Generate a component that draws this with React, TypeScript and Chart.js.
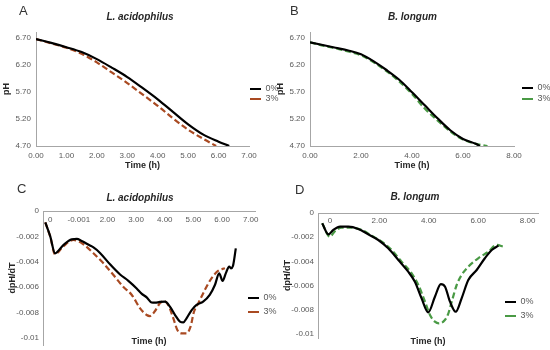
import React, { useEffect, useRef } from 'react';
import { Chart, registerables } from 'chart.js';

Chart.register(...registerables);

const FONT = "'Liberation Sans', Arial, Helvetica, sans-serif";
Chart.defaults.font.family = FONT;

// ---------- data ----------
const seriesLabels = ['0%', '3%'];
const panelTitles = ['L. acidophilus', 'B. longum', 'L. acidophilus', 'B. longum'];
const panelLetters = ['A', 'B', 'C', 'D'];

// Panel A: pH vs time, L. acidophilus
const timeA0 = [0, 0.5, 1, 1.5, 2, 2.5, 3, 3.5, 4, 4.5, 5, 5.5, 6, 6.35];
const phA0 = [6.67, 6.6, 6.52, 6.43, 6.3, 6.14, 5.97, 5.77, 5.56, 5.33, 5.1, 4.91, 4.78, 4.7];
const timeA3 = [0, 0.5, 1, 1.5, 2, 2.5, 3, 3.5, 4, 4.5, 5, 5.5, 5.92];
const phA3 = [6.67, 6.59, 6.51, 6.4, 6.24, 6.05, 5.86, 5.65, 5.44, 5.21, 5.0, 4.83, 4.7];

// Panel B: pH vs time, B. longum
const timeB0 = [0, 0.5, 1, 1.5, 2, 2.5, 3, 3.5, 4, 4.5, 5, 5.5, 6, 6.5, 6.66];
const phB0 = [6.61, 6.56, 6.51, 6.46, 6.39, 6.26, 6.1, 5.92, 5.69, 5.45, 5.21, 4.99, 4.83, 4.74, 4.7];
const timeB3 = [0, 0.5, 1, 1.5, 2, 2.5, 3, 3.5, 4, 4.5, 5, 5.5, 6, 6.5, 6.96];
const phB3 = [6.61, 6.55, 6.5, 6.44, 6.37, 6.24, 6.08, 5.89, 5.66, 5.39, 5.17, 4.97, 4.82, 4.74, 4.7];

// Panel C: dpH/dT, L. acidophilus
const timeC0 = [-0.17, 0, 0.17, 0.46, 0.75, 0.93, 1.1, 1.39, 1.5, 1.74, 2.09, 2.44, 2.73, 3.02, 3.19, 3.37, 3.54, 3.66, 3.83, 4.01, 4.18, 4.36, 4.53, 4.65, 4.76, 4.94, 5.11, 5.34, 5.57, 5.75, 5.9, 6.02, 6.13, 6.25, 6.31, 6.38, 6.48];
const dC0 = [-0.0009, -0.00197, -0.00333, -0.00268, -0.00223, -0.0022, -0.00236, -0.00272, -0.00285, -0.0033, -0.0042, -0.005, -0.0055, -0.0061, -0.0065, -0.0068, -0.0072, -0.00722, -0.00716, -0.00714, -0.00753, -0.00819, -0.00871, -0.00877, -0.00845, -0.0078, -0.0074, -0.00714, -0.00661, -0.00583, -0.00491, -0.00551, -0.00491, -0.00438, -0.00451, -0.00433, -0.00294];
const timeC3 = [-0.17, 0, 0.17, 0.45, 0.81, 1.16, 1.51, 1.86, 2.21, 2.55, 2.85, 3.14, 3.37, 3.48, 3.66, 3.83, 3.97, 4.12, 4.3, 4.44, 4.59, 4.76, 4.9, 5.02, 5.17, 5.4, 5.63, 5.87, 6.1];
const dC3 = [-0.0009, -0.002, -0.0034, -0.0028, -0.00228, -0.00262, -0.00333, -0.00412, -0.00504, -0.00596, -0.00661, -0.00766, -0.00819, -0.00827, -0.00787, -0.00727, -0.00709, -0.0074, -0.00845, -0.00937, -0.00963, -0.00963, -0.00911, -0.00793, -0.00727, -0.00622, -0.0053, -0.0047, -0.00451];

// Panel D: dpH/dT, B. longum
const timeD0 = [-0.31, -0.06, 0.14, 0.41, 0.75, 1.15, 1.55, 1.96, 2.36, 2.77, 3.17, 3.44, 3.71, 3.98, 4.25, 4.49, 4.66, 4.86, 5.09, 5.33, 5.6, 5.94, 6.27, 6.55, 6.82];
const dD0 = [-0.00085, -0.00176, -0.0014, -0.00113, -0.00113, -0.00132, -0.00176, -0.00223, -0.00292, -0.00388, -0.00485, -0.00568, -0.00705, -0.00821, -0.00692, -0.00587, -0.00609, -0.00733, -0.00816, -0.00705, -0.00554, -0.00471, -0.00374, -0.00306, -0.0027];
const timeD3 = [-0.31, 0.0, 0.21, 0.48, 0.88, 1.29, 1.69, 2.1, 2.5, 2.9, 3.31, 3.58, 3.85, 4.05, 4.25, 4.41, 4.59, 4.77, 4.93, 5.13, 5.33, 5.6, 6.0, 6.41, 6.75, 7.02];
const dD3 = [-0.00085, -0.00196, -0.00149, -0.00121, -0.00121, -0.0014, -0.00188, -0.00237, -0.00306, -0.00402, -0.00499, -0.00595, -0.00733, -0.00843, -0.00898, -0.00912, -0.00898, -0.00843, -0.00733, -0.00595, -0.00512, -0.00444, -0.00374, -0.0032, -0.00264, -0.00278];

// tick values / labels
const yTicksPH = [4.7, 5.2, 5.7, 6.2, 6.7];
const xTicksA = [0, 1, 2, 3, 4, 5, 6, 7];
const xTicksB = [0, 2, 4, 6, 8];
const yTicksD = [0, -0.002, -0.004, -0.006, -0.008, -0.01];
const xTicksC = [0, 1, 2, 3, 4, 5, 6, 7];
const xTickLabelsC = ['0', '-0.001', '2.00', '3.00', '4.00', '5.00', '6.00', '7.00'];
const xTicksD = [0, 2, 4, 6, 8];
const xTickLabelsD = ['0', '2.00', '4.00', '6.00', '8.00'];

// ---------- styles ----------
const BLACK = '#000000';
const RED = '#a94a22';
const GREEN = '#4a9a45';
const TICK_COLOR = '#595959';
const TITLE_COLOR = '#262626';
const AXIS_COLOR = '#a6a6a6';

const noGrid = { display: false, drawTicks: false };
const axisBorder = { display: true, color: AXIS_COLOR, width: 1 };
const setTicks = (vals: number[]) => (sc: any) => {
  sc.ticks = vals.map((v) => ({ value: v }));
};
const tickOpts = (padding: number, callback: any) => ({
  font: { size: 8 },
  color: TICK_COLOR,
  padding,
  autoSkip: false,
  maxRotation: 0,
  callback,
});
const axisTitle = (text: string, padding: any) => ({
  display: true,
  text,
  color: TITLE_COLOR,
  font: { size: 9, weight: 'bold' },
  padding,
});
const fmt2 = (v: any) => Number(v).toFixed(2);
const fmtD = (v: any) => (Number(v) === 0 ? '0' : String(parseFloat(Number(v).toFixed(3))));

// places the legend at a fixed spot and centres the title on the whole canvas
const placeBoxes = {
  id: 'placeBoxes',
  afterLayout(chart: any, _args: any, opts: any) {
    const tb = chart.titleBlock;
    if (tb) {
      tb.left = 0;
      tb.right = chart.width;
      tb.width = chart.width;
    }
    const lg = chart.legend;
    if (!lg || !opts || opts.x == null) return;
    const w = lg.width;
    lg.left = opts.x;
    lg.right = opts.x + w;
    lg.top = opts.y;
    lg.bottom = opts.y + 200;
  },
};

type Series = { t: number[]; v: number[]; color: string; dash: boolean };
type Spec = {
  left: number;
  top: number;
  width: number;
  height: number;
  title: string;
  titlePad: { top: number; bottom: number };
  padRight: number;
  legend: { x: number; y: number; pad: number };
  series: Series[];
  scales: any;
};

const specs: Spec[] = [
  {
    left: -5, top: 0, width: 290, height: 175,
    title: panelTitles[0], titlePad: { top: 11, bottom: 9 }, padRight: 36,
    legend: { x: 254, y: 83.5, pad: 1 },
    series: [
      { t: timeA0, v: phA0, color: BLACK, dash: false },
      { t: timeA3, v: phA3, color: RED, dash: true },
    ],
    scales: {
      x: {
        type: 'linear', min: 0, max: 7, grid: noGrid, border: axisBorder,
        afterBuildTicks: setTicks(xTicksA),
        ticks: tickOpts(5, fmt2),
        title: axisTitle('Time (h)', { top: 0, bottom: 4 }),
        afterFit: (sc: any) => { sc.height = 29; },
      },
      y: {
        type: 'linear', min: 4.7, max: 6.8, grid: noGrid, border: axisBorder,
        afterBuildTicks: setTicks(yTicksPH),
        ticks: tickOpts(5, fmt2),
        title: axisTitle('pH', { top: 6, bottom: 0 }),
        afterFit: (sc: any) => { sc.width = 41; },
      },
    },
  },
  {
    left: 275, top: 0, width: 275, height: 175,
    title: panelTitles[1], titlePad: { top: 11, bottom: 9 }, padRight: 36,
    legend: { x: 245, y: 81.5, pad: 2 },
    series: [
      { t: timeB0, v: phB0, color: BLACK, dash: false },
      { t: timeB3, v: phB3, color: GREEN, dash: true },
    ],
    scales: {
      x: {
        type: 'linear', min: 0, max: 8, grid: noGrid, border: axisBorder,
        afterBuildTicks: setTicks(xTicksB),
        ticks: tickOpts(5, fmt2),
        title: axisTitle('Time (h)', { top: 0, bottom: 4 }),
        afterFit: (sc: any) => { sc.height = 29; },
      },
      y: {
        type: 'linear', min: 4.7, max: 6.8, grid: noGrid, border: axisBorder,
        afterBuildTicks: setTicks(yTicksPH),
        ticks: tickOpts(5, fmt2),
        title: axisTitle('pH', { top: 0, bottom: 0 }),
        afterFit: (sc: any) => { sc.width = 35; },
      },
    },
  },
  {
    left: -5, top: 175, width: 290, height: 179,
    title: panelTitles[2], titlePad: { top: 17, bottom: 7 }, padRight: 30,
    legend: { x: 248, y: 113.5, pad: 5 },
    series: [
      { t: timeC0, v: dC0, color: BLACK, dash: false },
      { t: timeC3, v: dC3, color: RED, dash: true },
    ],
    scales: {
      x: {
        type: 'linear', position: { y: 0 }, min: -0.25, max: 7.15, grid: noGrid, border: axisBorder,
        afterBuildTicks: setTicks(xTicksC),
        ticks: tickOpts(4, (_v: any, i: number) => xTickLabelsC[i]),
      },
      x2: {
        type: 'linear', axis: 'x', position: 'bottom', grid: noGrid, border: { display: false },
        ticks: { display: false },
        title: axisTitle('Time (h)', { top: 0, bottom: 7 }),
        afterFit: (sc: any) => { sc.height = 9; },
      },
      y: {
        type: 'linear', min: -0.01055, max: 0, grid: noGrid, border: axisBorder,
        afterBuildTicks: setTicks(yTicksD),
        ticks: tickOpts(4, fmtD),
        title: axisTitle('dpH/dT', { top: 12, bottom: 0 }),
        afterFit: (sc: any) => { sc.width = 48; },
      },
    },
  },
  {
    left: 280, top: 175, width: 270, height: 175,
    title: panelTitles[3], titlePad: { top: 16, bottom: 10 }, padRight: 12,
    legend: { x: 220, y: 117.5, pad: 5 },
    series: [
      { t: timeD0, v: dD0, color: BLACK, dash: false },
      { t: timeD3, v: dD3, color: GREEN, dash: true },
    ],
    scales: {
      x: {
        type: 'linear', position: { y: 0 }, min: -0.48, max: 8.42, grid: noGrid, border: axisBorder,
        afterBuildTicks: setTicks(xTicksD),
        ticks: tickOpts(3, (_v: any, i: number) => xTickLabelsD[i]),
      },
      x2: {
        type: 'linear', axis: 'x', position: 'bottom', grid: noGrid, border: { display: false },
        ticks: { display: false },
        title: axisTitle('Time (h)', { top: 0, bottom: 3 }),
        afterFit: (sc: any) => { sc.height = 12; },
      },
      y: {
        type: 'linear', min: -0.01033, max: 0, grid: noGrid, border: axisBorder,
        afterBuildTicks: setTicks(yTicksD),
        ticks: tickOpts(4, fmtD),
        title: axisTitle('dpH/dT', { top: 2, bottom: 0 }),
        afterFit: (sc: any) => { sc.width = 38; },
      },
    },
  },
];

function buildConfig(s: Spec): any {
  const datasets = s.series.map((se, k) => ({
    label: seriesLabels[k],
    data: se.t.map((t, i) => ({ x: t, y: se.v[i] })),
    borderColor: se.color,
    backgroundColor: se.color,
    borderWidth: 2.2,
    borderDash: se.dash ? [6, 3] : [],
    pointRadius: 0,
    fill: false,
    cubicInterpolationMode: 'monotone',
  }));
  return {
    type: 'line',
    data: { datasets },
    options: {
      responsive: false,
      animation: false,
      devicePixelRatio: 1,
      layout: { padding: { left: 0, top: 0, right: s.padRight, bottom: 0 } },
      plugins: {
        title: {
          display: true,
          text: s.title,
          color: TITLE_COLOR,
          font: { size: 10, weight: 'bold', style: 'italic' },
          padding: s.titlePad,
        },
        legend: {
          display: true,
          position: 'chartArea',
          align: 'start',
          labels: {
            usePointStyle: true,
            pointStyle: 'line',
            pointStyleWidth: 11,
            font: { size: 9 },
            color: TICK_COLOR,
            padding: s.legend.pad,
          },
        },
        tooltip: { enabled: false },
        placeBoxes: { x: s.legend.x, y: s.legend.y },
      },
      scales: s.scales,
    },
    plugins: [placeBoxes],
  };
}

function Panel({ spec }: { spec: Spec }) {
  const ref = useRef<HTMLCanvasElement>(null);
  useEffect(() => {
    const chart = new Chart(ref.current as HTMLCanvasElement, buildConfig(spec));
    return () => chart.destroy();
  }, [spec]);
  return (
    <canvas
      ref={ref}
      width={spec.width}
      height={spec.height}
      style={{ position: 'absolute', left: spec.left, top: spec.top, width: spec.width, height: spec.height }}
    />
  );
}

const letterPos = [
  { left: 19, top: 4 },
  { left: 290, top: 4 },
  { left: 17, top: 182 },
  { left: 295, top: 183 },
];

export default function App() {
  return (
    <div
      style={{
        position: 'fixed',
        left: 0,
        top: 0,
        width: 550,
        height: 350,
        background: '#ffffff',
        overflow: 'hidden',
      }}
    >
      {specs.map((s, i) => (
        <Panel key={i} spec={s} />
      ))}
      {panelLetters.map((L, i) => (
        <div
          key={L}
          style={{
            position: 'absolute',
            left: letterPos[i].left,
            top: letterPos[i].top,
            fontFamily: FONT,
            fontSize: 13,
            lineHeight: '13px',
            color: '#333333',
          }}
        >
          {L}
        </div>
      ))}
    </div>
  );
}
